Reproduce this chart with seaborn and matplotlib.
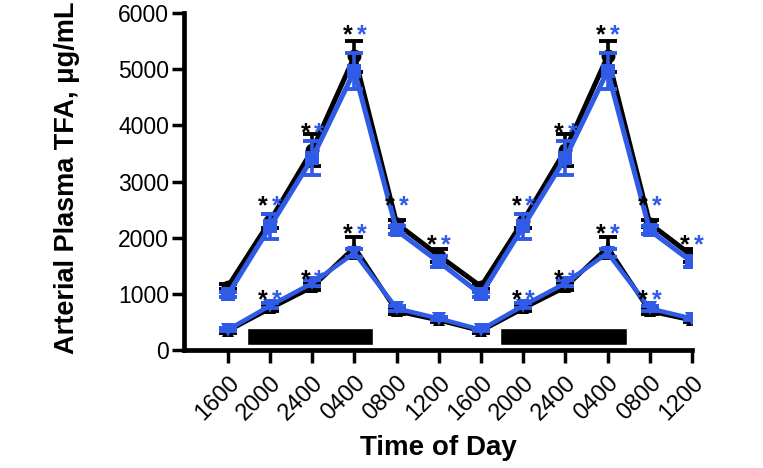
import numpy as np
import pandas as pd
import matplotlib
matplotlib.use('Agg')
import matplotlib.pyplot as plt
import seaborn as sns

# ── данные ──
time_labels = ["1600", "2000", "2400", "0400", "0800", "1200",
               "1600", "2000", "2400", "0400", "0800", "1200"]

upper_black = [1130, 2300, 3560, 5230, 2250, 1680, 1130, 2300, 3560, 5230, 2250, 1680]
upper_black_err = [50, 120, 280, 280, 60, 110, 50, 120, 280, 280, 60, 110]
upper_blue = [990, 2200, 3420, 4970, 2130, 1570, 990, 2200, 3420, 4970, 2130, 1570]
upper_blue_err = [50, 230, 300, 320, 70, 100, 50, 230, 300, 320, 70, 100]

lower_black = [340, 740, 1120, 1830, 690, 530, 340, 740, 1120, 1830, 690, 530]
lower_black_err = [30, 50, 60, 190, 40, 30, 30, 50, 60, 190, 40, 30]
lower_blue = [360, 790, 1190, 1730, 740, 560, 360, 790, 1190, 1730, 740, 560]
lower_blue_err = [30, 40, 50, 70, 40, 30, 30, 40, 50, 70, 40, 30]

# значимость (**): индекс точки и высота звёздочек
star_idx = [1, 2, 3, 4, 5, 7, 8, 9, 10, 11, 1, 2, 3, 7, 8, 9, 10]
star_val = [2680, 3980, 5720, 2680, 1980, 2680, 3980, 5720, 2680, 1980,
            1010, 1370, 2190, 1010, 1370, 2190, 1010]

# тёмная фаза (чёрные полосы)
dark_start = [0.45, 6.45]
dark_len = 3.0
dark_bottom = 90
dark_height = 300

BLUE = "#2F5BE6"

sns.set_style("ticks")
plt.rcParams['font.family'] = ['Liberation Sans', 'DejaVu Sans']
plt.rcParams['text.color'] = 'black'
plt.rcParams['axes.labelcolor'] = 'black'

fig = plt.figure(figsize=(7.63, 4.68), dpi=100)
ax = fig.add_axes([0.2418, 0.2521, 0.6651, 0.7201])

x = np.arange(len(time_labels))

ax.bar(dark_start, dark_height, width=dark_len, bottom=dark_bottom,
       align='edge', color='black', zorder=1)

ax.errorbar(x, upper_black, yerr=upper_black_err, fmt='none', ecolor='black',
            elinewidth=2.6, capsize=6.5, capthick=2.8, zorder=2)
sns.lineplot(x=x, y=upper_black, color='black', linewidth=3.6, marker='o',
             markersize=10, markeredgewidth=0, ax=ax, zorder=3)
ax.errorbar(x, upper_blue, yerr=upper_blue_err, fmt='none', ecolor=BLUE,
            elinewidth=2.6, capsize=6.5, capthick=2.8, zorder=4)
sns.lineplot(x=x, y=upper_blue, color=BLUE, linewidth=3.6, marker='s',
             markersize=10, markeredgewidth=0, ax=ax, zorder=5)

ax.errorbar(x, lower_black, yerr=lower_black_err, fmt='none', ecolor='black',
            elinewidth=2.6, capsize=6.5, capthick=2.8, zorder=2)
sns.lineplot(x=x, y=lower_black, color='black', linewidth=3.2, marker='^',
             markersize=9, markeredgewidth=0, ax=ax, zorder=3)
ax.errorbar(x, lower_blue, yerr=lower_blue_err, fmt='none', ecolor=BLUE,
            elinewidth=2.6, capsize=6.5, capthick=2.8, zorder=4)
sns.lineplot(x=x, y=lower_blue, color=BLUE, linewidth=3.2, marker='v',
             markersize=10, markeredgewidth=0, ax=ax, zorder=5)

for i, v in zip(star_idx, star_val):
    ax.annotate("*", (i, v), xytext=(-5, -10), textcoords='offset points',
                ha='center', va='baseline', fontsize=18, fontweight='bold',
                color='black', zorder=6)
    ax.annotate("*", (i, v), xytext=(5, -10), textcoords='offset points',
                ha='center', va='baseline', fontsize=18, fontweight='bold',
                color=BLUE, zorder=6)

ax.set_xlim(-1.03, 11.0)
ax.set_ylim(0, 6000)
ax.set_yticks(range(0, 6001, 1000))
ax.set_xticks(x)
ax.set_xticklabels(time_labels, rotation=45, ha='right', va='top',
                   rotation_mode='anchor')
ax.tick_params(axis='both', length=9, width=2.5, color='black',
               labelsize=16.5, labelcolor='black')
ax.tick_params(axis='x', pad=7, labelsize=17)
ax.tick_params(axis='y', pad=2)

for side in ['top', 'right']:
    ax.spines[side].set_visible(False)
for side in ['left', 'bottom']:
    ax.spines[side].set_linewidth(3.4)
    ax.spines[side].set_color('black')
    ax.spines[side].set_capstyle('projecting')

ax.set_ylabel("Arterial Plasma TFA, μg/mL", fontsize=19.5, fontweight='bold')
ax.set_xlabel("Time of Day", fontsize=20, fontweight='bold')
ax.yaxis.set_label_coords(-0.206, 0.512)
ax.xaxis.set_label_coords(0.5, -0.252)

fig.savefig("out.png", dpi=100)
